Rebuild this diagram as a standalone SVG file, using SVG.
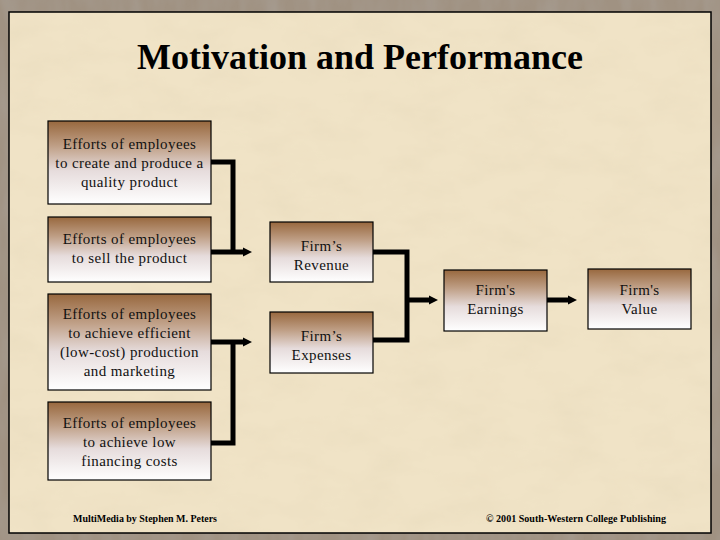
<svg xmlns="http://www.w3.org/2000/svg" width="720" height="540" viewBox="0 0 720 540">
  <defs>
    <style>
      .box { stroke: #000; stroke-width: 1.2; fill: url(#boxgrad); }
      .lbl { font-family: "Liberation Serif", "Times New Roman", serif; font-size: 15px; letter-spacing: 0.4px; fill: #111; text-anchor: middle; }
      .conn { stroke: #000; stroke-width: 5; fill: none; stroke-linejoin: miter; }
      .foot { font-family: "Liberation Serif", "Times New Roman", serif; font-size: 11px; font-weight: bold; fill: #000; }
    </style>
    <linearGradient id="boxgrad" x1="0" y1="0" x2="0" y2="1">
      <stop offset="0" stop-color="#98683e"/>
      <stop offset="0.3" stop-color="#bf9f86"/>
      <stop offset="0.6" stop-color="#e6dcdc"/>
      <stop offset="1" stop-color="#ffffff"/>
    </linearGradient>
    <filter id="parch" x="0" y="0" width="100%" height="100%">
      <feTurbulence type="fractalNoise" baseFrequency="0.02 0.04" numOctaves="4" seed="3" result="n"/>
      <feColorMatrix in="n" type="matrix" values="0 0 0 0 0.82  0 0 0 0 0.72  0 0 0 0 0.52  0 0 0 1.2 -0.45" result="c"/>
      <feComposite in="c" in2="SourceGraphic" operator="in"/>
    </filter>
    <filter id="frame" x="0" y="0" width="100%" height="100%">
      <feTurbulence type="fractalNoise" baseFrequency="0.05 0.015" numOctaves="3" seed="7" result="n"/>
      <feColorMatrix in="n" type="matrix" values="0 0 0 0 0.38  0 0 0 0 0.33  0 0 0 0 0.28  0 0 0 1.6 -0.55" result="c"/>
      <feComposite in="c" in2="SourceGraphic" operator="in"/>
    </filter>
    <marker id="arrow" markerUnits="userSpaceOnUse" markerWidth="10" markerHeight="12" viewBox="0 0 10 12" refX="0" refY="6" orient="auto">
      <path d="M0,1.5 L9,6 L0,10.5 Z" fill="#000"/>
    </marker>
  </defs>

  <!-- background frame and panel -->
  <rect x="0" y="0" width="720" height="540" fill="#a09282"/>
  <rect x="0" y="0" width="720" height="540" fill="#fff" filter="url(#frame)"/>
  <rect x="9" y="12" width="702" height="521" fill="#f0e3c6"/>
  <rect x="9" y="12" width="702" height="521" fill="#fff" filter="url(#parch)"/>
  <rect x="9" y="12" width="702" height="521" fill="none" stroke="#000" stroke-width="1.5"/>

  <text x="360" y="69" text-anchor="middle" font-family="Liberation Serif, Times New Roman, serif" font-size="36" font-weight="bold" fill="#000">Motivation and Performance</text>

  <g id="connectors">
    <path class="conn" d="M211 162 H233 V252"/>
    <path class="conn" d="M211 252 H243" marker-end="url(#arrow)"/>
    <path class="conn" d="M211 443 H233 V342"/>
    <path class="conn" d="M211 342 H243" marker-end="url(#arrow)"/>
    <path class="conn" d="M373 252 H407 V340 H373"/>
    <path class="conn" d="M407 300 H429" marker-end="url(#arrow)"/>
    <path class="conn" d="M547 300 H568" marker-end="url(#arrow)"/>
  </g>

  <g id="effort-quality">
    <rect class="box" x="48" y="121" width="163" height="83"/>
    <text class="lbl" x="129.5" y="149">Efforts of employees</text>
    <text class="lbl" x="129.5" y="168">to create and produce a</text>
    <text class="lbl" x="129.5" y="187">quality product</text>
  </g>
  <g id="effort-sell">
    <rect class="box" x="48" y="217" width="163" height="65"/>
    <text class="lbl" x="129.5" y="244">Efforts of employees</text>
    <text class="lbl" x="129.5" y="263">to sell the product</text>
  </g>
  <g id="effort-efficient">
    <rect class="box" x="48" y="294" width="163" height="96"/>
    <text class="lbl" x="129.5" y="319">Efforts of employees</text>
    <text class="lbl" x="129.5" y="338">to achieve efficient</text>
    <text class="lbl" x="129.5" y="357">(low-cost) production</text>
    <text class="lbl" x="129.5" y="376">and marketing</text>
  </g>
  <g id="effort-financing">
    <rect class="box" x="48" y="402" width="163" height="78"/>
    <text class="lbl" x="129.5" y="428">Efforts of employees</text>
    <text class="lbl" x="129.5" y="447">to achieve low</text>
    <text class="lbl" x="129.5" y="466">financing costs</text>
  </g>
  <g id="revenue">
    <rect class="box" x="270" y="222" width="103" height="60"/>
    <text class="lbl" x="321.5" y="251">Firm’s</text>
    <text class="lbl" x="321.5" y="270">Revenue</text>
  </g>
  <g id="expenses">
    <rect class="box" x="270" y="312" width="103" height="61"/>
    <text class="lbl" x="321.5" y="341">Firm’s</text>
    <text class="lbl" x="321.5" y="360">Expenses</text>
  </g>
  <g id="earnings">
    <rect class="box" x="444" y="270" width="103" height="61"/>
    <text class="lbl" x="495.5" y="295">Firm's</text>
    <text class="lbl" x="495.5" y="314">Earnings</text>
  </g>
  <g id="value">
    <rect class="box" x="588" y="269" width="103" height="60"/>
    <text class="lbl" x="639.5" y="295">Firm's</text>
    <text class="lbl" x="639.5" y="314">Value</text>
  </g>

  <text class="foot" x="73" y="522" textLength="144" lengthAdjust="spacingAndGlyphs">MultiMedia by Stephen M. Peters</text>
  <text class="foot" x="486" y="522" textLength="180" lengthAdjust="spacingAndGlyphs">© 2001 South-Western College Publishing</text>
</svg>
